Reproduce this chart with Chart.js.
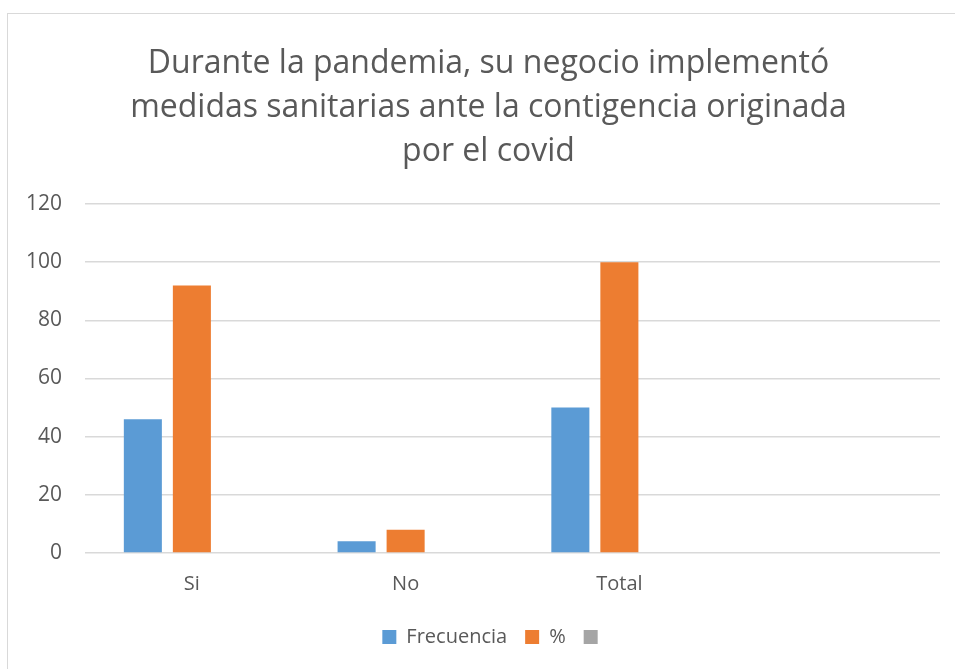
<!DOCTYPE html>
<html>
<head>
<meta charset="utf-8">
<script src="https://cdn.jsdelivr.net/npm/chart.js@4.4.0/dist/chart.umd.min.js"></script>
<style>
  html, body { margin: 0; padding: 0; background: #fff; overflow: hidden; }
  #marco {
    position: absolute; left: 7px; top: 13px;
    width: 1000px; height: 700px;
    border-top: 1.5px solid #d9d9d9; border-left: 1.5px solid #d9d9d9;
  }
  #caja { position: absolute; left: 0; top: 0; width: 955px; height: 669px; }
</style>
</head>
<body>
<div id="marco"></div>
<div id="caja"><canvas id="grafico"></canvas></div>
<script>
const categorias = ["Si", "No", "Total", ""];
const frecuencia = [46, 4, 50, null];
const porcentaje = [92, 8, 100, null];
const vacia = [null, null, null, null];
const ticksY = [0, 20, 40, 60, 80, 100, 120];

const tituloLineas = [
  "Durante la pandemia, su negocio implementó",
  "medidas sanitarias ante la contigencia originada",
  "por el covid"
];

const gris = "#595959";
const fuente = "'Open Sans', sans-serif";

// el titulo y la leyenda de Excel van centrados en todo el cuadro, no en el area del grafico
const centrarCuadro = {
  id: "centrarCuadro",
  afterLayout(chart) {
    chart.titleBlock.left += 37;
    chart.legend.left += 50;
  }
};

new Chart(document.getElementById("grafico"), {
  type: "bar",
  data: {
    labels: categorias,
    datasets: [
      { label: "Frecuencia", data: frecuencia, backgroundColor: "#5B9BD5" },
      { label: "%", data: porcentaje, backgroundColor: "#ED7D31" },
      { label: "", data: vacia, backgroundColor: "#A5A5A5" }
    ]
  },
  options: {
    responsive: true,
    maintainAspectRatio: false,
    animation: false,
    categoryPercentage: 0.688,
    barPercentage: 0.776,
    layout: { padding: { left: 0, right: 15, top: 0, bottom: 12 } },
    scales: {
      x: {
        afterFit: s => { s.height = 56; },
        grid: { display: false, drawTicks: false },
        border: { display: false },
        ticks: { color: gris, font: { family: fuente, size: 20 }, padding: 19 }
      },
      y: {
        min: 0,
        max: 120,
        afterBuildTicks: s => { s.ticks = ticksY.map(v => ({ value: v })); },
        afterFit: s => { s.width = 85; },
        grid: { color: "#d9d9d9", lineWidth: 1.5, drawTicks: false },
        border: { display: false },
        ticks: { color: gris, font: { family: fuente, size: 21 }, padding: 23 }
      }
    },
    plugins: {
      title: {
        display: true,
        text: tituloLineas,
        color: gris,
        font: { family: fuente, size: 32, weight: "normal", lineHeight: 1.375 },
        padding: { top: 42, bottom: 30 }
      },
      legend: {
        position: "bottom",
        labels: {
          color: gris,
          font: { family: fuente, size: 20 },
          boxWidth: 14,
          boxHeight: 14,
          padding: 18
        }
      },
      tooltip: { enabled: false }
    }
  },
  plugins: [centrarCuadro]
});
</script>
</body>
</html>
